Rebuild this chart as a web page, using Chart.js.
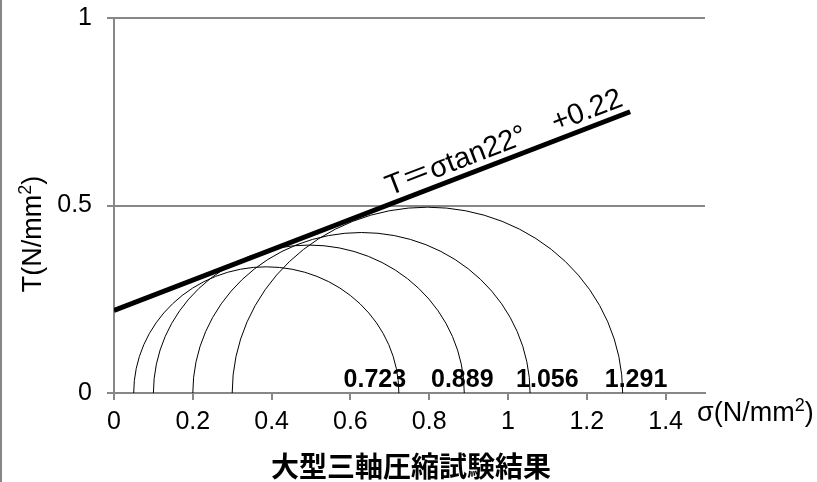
<!DOCTYPE html>
<html>
<head>
<meta charset="utf-8">
<script src="https://cdn.jsdelivr.net/npm/chart.js@4"></script>
<style>
  html, body { margin: 0; padding: 0; background: #fff; }
  #wrap { width: 817px; height: 482px; position: relative; }
</style>
</head>
<body>
<div id="wrap"><canvas id="c" width="817" height="482"></canvas></div>
<script>
// 大型三軸圧縮試験 - モール円
const sigma3 = [0.05, 0.10, 0.20, 0.30];
const sigma1 = [0.723, 0.889, 1.056, 1.291];
const sigmaLabels = ['0.723', '0.889', '1.056', '1.291'];
const labelPos = [0.662, 0.884, 1.100, 1.325];

// 破壊包絡線 T = σtan22° + 0.22
const lineSigma = [0, 1.31];
const lineTau = [0.22, 0.75];
const lineText = 'T＝σtan22°　+0.22';

const xTicks = [0, 0.2, 0.4, 0.6, 0.8, 1, 1.2, 1.4];
const yTicks = [0, 0.5, 1];

const GRAY = '#878787';
const FONT = '"Liberation Sans", Arial, "Noto Sans CJK JP", sans-serif';

const mohrPlugin = {
    id: 'mohr',
    beforeDatasetsDraw(chart) {
        const { ctx, scales: { x, y } } = chart;
        ctx.save();
        ctx.strokeStyle = '#000';
        ctx.lineWidth = 1;
        sigma3.forEach((s3, i) => {
            const c = (s3 + sigma1[i]) / 2;
            const r = (sigma1[i] - s3) / 2;
            const px = x.getPixelForValue(c);
            const py = y.getPixelForValue(0);
            const rx = x.getPixelForValue(c + r) - px;
            const ry = py - y.getPixelForValue(r);
            ctx.beginPath();
            ctx.ellipse(px, py, rx, ry, 0, Math.PI, 2 * Math.PI);
            ctx.stroke();
        });
        ctx.restore();
    },
    afterDatasetsDraw(chart) {
        const { ctx, scales: { x, y } } = chart;
        ctx.save();

        // 円の右端の値
        ctx.fillStyle = '#000';
        ctx.font = 'bold 25px ' + FONT;
        ctx.textAlign = 'center';
        ctx.textBaseline = 'alphabetic';
        sigmaLabels.forEach((t, i) => {
            ctx.fillText(t, x.getPixelForValue(labelPos[i]), y.getPixelForValue(0) - 6);
        });

        // 直線のラベル
        const x0 = x.getPixelForValue(lineSigma[0]), y0 = y.getPixelForValue(lineTau[0]);
        const x1 = x.getPixelForValue(lineSigma[1]), y1 = y.getPixelForValue(lineTau[1]);
        const ang = Math.atan2(y1 - y0, x1 - x0);
        const f = 0.54;
        ctx.translate(x0 + (x1 - x0) * f, y0 + (y1 - y0) * f);
        ctx.rotate(ang);
        ctx.font = '29px ' + FONT;
        ctx.textAlign = 'left';
        ctx.fillText(lineText, 0, -8);
        ctx.restore();
    },
    afterDraw(chart) {
        const { ctx } = chart;
        ctx.save();
        ctx.fillStyle = '#000';

        // 左端の枠線
        ctx.strokeStyle = GRAY;
        ctx.lineWidth = 2;
        ctx.beginPath();
        ctx.moveTo(1, 0);
        ctx.lineTo(1, 482);
        ctx.stroke();

        // 軸タイトル（上付き 2）
        const drawUnit = (pre, cx, cy, align) => {
            ctx.font = '27px ' + FONT;
            const w1 = ctx.measureText(pre).width;
            ctx.font = '18px ' + FONT;
            const w2 = ctx.measureText('2').width;
            ctx.font = '27px ' + FONT;
            const w3 = ctx.measureText(')').width;
            const total = w1 + w2 + w3;
            let sx = align === 'center' ? cx - total / 2 : cx;
            ctx.textAlign = 'left';
            ctx.textBaseline = 'middle';
            ctx.fillText(pre, sx, cy);
            ctx.font = '18px ' + FONT;
            ctx.fillText('2', sx + w1, cy - 8);
            ctx.font = '27px ' + FONT;
            ctx.fillText(')', sx + w1 + w2, cy);
        };
        drawUnit('σ(N/mm', 697, 414, 'left');

        ctx.save();
        ctx.translate(34, 234);
        ctx.rotate(-Math.PI / 2);
        drawUnit('T(N/mm', 0, 0, 'center');
        ctx.restore();

        // タイトル
        ctx.font = 'bold 28px "Noto Sans CJK JP", sans-serif';
        ctx.textAlign = 'center';
        ctx.textBaseline = 'middle';
        ctx.fillText('大型三軸圧縮試験結果', 411, 466);
        ctx.restore();
    }
};

new Chart(document.getElementById('c'), {
    type: 'scatter',
    data: {
        datasets: [{
            type: 'line',
            data: lineSigma.map((s, i) => ({ x: s, y: lineTau[i] })),
            borderColor: '#000',
            borderWidth: 5,
            pointRadius: 0,
            fill: false
        }]
    },
    options: {
        responsive: false,
        animation: false,
        layout: { padding: { left: 0, top: 18, right: 112, bottom: 0 } },
        plugins: {
            legend: { display: false },
            tooltip: { enabled: false }
        },
        scales: {
            x: {
                type: 'linear',
                min: 0,
                max: 1.5,
                afterBuildTicks: s => { s.ticks = xTicks.map(v => ({ value: v })); },
                afterFit: s => { s.height = 89; s.paddingLeft = 0; s.paddingRight = 0; },
                grid: { drawOnChartArea: false, color: GRAY, lineWidth: 2, tickLength: 7 },
                border: { color: GRAY, width: 2 },
                ticks: {
                    color: '#000',
                    padding: 7,
                    maxRotation: 0,
                    font: { family: FONT, size: 25 },
                    callback: v => String(v)
                }
            },
            y: {
                type: 'linear',
                min: 0,
                max: 1,
                afterBuildTicks: s => { s.ticks = yTicks.map(v => ({ value: v })); },
                afterFit: s => { s.width = 114; s.paddingTop = 0; s.paddingBottom = 0; },
                grid: { color: GRAY, lineWidth: 2, tickLength: 7 },
                border: { color: GRAY, width: 2 },
                ticks: {
                    color: '#000',
                    padding: 15,
                    font: { family: FONT, size: 25 },
                    callback: v => String(v)
                }
            }
        }
    },
    plugins: [mohrPlugin]
});
</script>
</body>
</html>
